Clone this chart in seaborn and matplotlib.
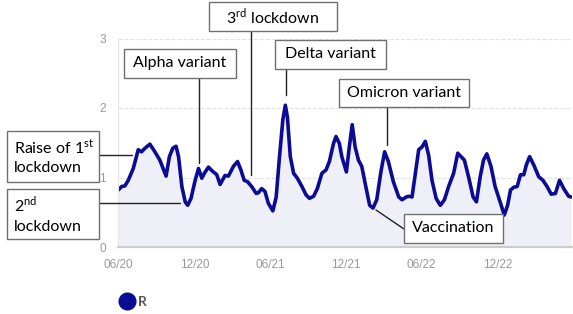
import pandas as pd
import matplotlib.pyplot as plt
import seaborn as sns
from matplotlib.patches import Rectangle
from matplotlib.lines import Line2D

# R estimate (days since 2020-06-01)
start = pd.Timestamp('2020-06-01')
days = [0, 8, 16, 24, 36, 48, 56, 64, 76, 88, 100, 115, 123, 131, 139, 145,
        153, 161, 167, 175, 185, 193, 201, 207, 217, 225, 237, 245, 257, 265,
        277, 287, 295, 303, 311, 321, 332, 337, 345, 353, 361, 372, 380, 388,
        396, 402, 407, 414, 422, 431, 442, 452, 460, 470, 479, 490, 500, 508,
        518, 524, 532, 538, 549, 556, 563, 570, 578, 586, 594, 605, 613, 622,
        632, 641, 650, 662, 675, 683, 693, 699, 707, 715, 723, 731, 739, 747,
        755, 765, 775, 785, 795, 807, 817, 825, 833, 843, 854, 862, 871, 879,
        887, 897, 907, 920, 929, 937, 944, 952, 960, 968, 976, 982, 990, 1000,
        1012, 1022, 1032, 1042, 1052, 1062, 1072, 1084, 1090]
r_values = [0.82, 0.87, 0.88, 0.96, 1.13, 1.40, 1.37, 1.42, 1.48, 1.37, 1.25,
            1.02, 1.30, 1.42, 1.45, 1.30, 0.87, 0.65, 0.60, 0.70, 0.96, 1.13,
            0.99, 1.06, 1.15, 1.10, 1.04, 0.90, 1.03, 1.02, 1.16, 1.23, 1.11,
            0.96, 0.94, 0.87, 0.77, 0.78, 0.84, 0.80, 0.63, 0.52, 0.72, 1.30,
            1.83, 2.04, 1.87, 1.30, 1.06, 0.99, 0.87, 0.75, 0.70, 0.73, 0.84,
            1.06, 1.11, 1.23, 1.49, 1.59, 1.49, 1.30, 1.08, 1.44, 1.76, 1.44,
            1.25, 1.16, 0.92, 0.60, 0.56, 0.68, 1.08, 1.37, 1.23, 0.94, 0.72,
            0.68, 0.72, 0.73, 0.72, 1.06, 1.40, 1.44, 1.52, 1.32, 0.96, 0.70,
            0.60, 0.68, 0.87, 1.06, 1.35, 1.30, 1.25, 1.01, 0.72, 0.65, 1.01,
            1.25, 1.34, 1.16, 0.87, 0.63, 0.46, 0.60, 0.82, 0.86, 0.87, 1.04,
            1.04, 1.18, 1.30, 1.18, 1.01, 0.96, 0.87, 0.76, 0.77, 0.96, 0.84,
            0.73, 0.72]
tick_dates = ['2020-06-01', '2020-12-01', '2021-06-01', '2021-12-01',
              '2022-06-01', '2022-12-01']
tick_labels = ['06/20', '12/20', '06/21', '12/21', '06/22', '12/22']

df = pd.DataFrame({'date': start + pd.to_timedelta(days, unit='D'), 'R': r_values})

sns.set_style('white')
plt.rcParams['font.family'] = ['Lato', 'DejaVu Sans']
plt.rcParams['mathtext.fontset'] = 'custom'
plt.rcParams['mathtext.rm'] = 'Lato'

W, H = 573, 314
fig = plt.figure(figsize=(W / 100, H / 100), dpi=100)
ax = fig.add_axes([118.3 / W, 1 - 247 / H, (572 - 118.3) / W, (247 - 38.5) / H])

navy = '#0b0b94'
ax.fill_between(df['date'], df['R'], color='#efeff7', lw=0)
sns.lineplot(data=df, x='date', y='R', ax=ax, color=navy, lw=2.6, legend=False,
             solid_joinstyle='round', solid_capstyle='round')

ax.set_xlim(start, start + pd.Timedelta(days=1092))
ax.set_ylim(0, 3)
ax.set_xticks(pd.to_datetime(tick_dates))
ax.set_xticklabels(tick_labels)
ax.set_yticks([0, 1, 2, 3])
ax.set_xlabel('')
ax.set_ylabel('')
ax.tick_params(length=0, labelsize=8.5, labelcolor='#999999')
ax.tick_params(axis='x', pad=9)
ax.tick_params(axis='y', pad=9)
for lab in ax.get_xticklabels() + ax.get_yticklabels():
    lab.set_fontfamily('Liberation Sans')
ax.yaxis.grid(True, ls='--', color='#e2e2e2', lw=0.8)
for s in ['top', 'right']:
    ax.spines[s].set_visible(False)
ax.spines['left'].set_color('#e6e6e6')
ax.spines['bottom'].set_color('#cccccc')
ax.spines['bottom'].set_linewidth(1.6)


def fx(x):
    return x / W


def fy(y):
    return 1 - y / H


# annotation boxes: (text, x0, y0, x1, y1, left aligned)
boxes = [
    (r'3$^{\mathrm{rd}}$ lockdown', 209, 2, 337, 31, False),
    ('Alpha variant', 124, 49, 236, 78, False),
    ('Delta variant', 275, 40, 386, 69, False),
    ('Omicron variant', 339, 79, 469, 107, False),
    ('Raise of 1$^{\\mathrm{st}}$\nlockdown', 7, 131, 99, 182, True),
    ('2$^{\\mathrm{nd}}$\nlockdown', 7, 189, 99, 239, True),
    ('Vaccination', 404, 214, 503, 243, False),
]
for txt, x0, y0, x1, y1, left in boxes:
    fig.add_artist(Rectangle((fx(x0), fy(y1)), (x1 - x0) / W, (y1 - y0) / H,
                             transform=fig.transFigure, fc='white',
                             ec='#707070', lw=1, zorder=5))
    if left:
        fig.text(fx(x0 + 7), fy((y0 + y1) / 2), txt, ha='left', va='center',
                 fontsize=11.5, color='black', zorder=6, linespacing=1.45)
    else:
        fig.text(fx((x0 + x1) / 2), fy((y0 + y1) / 2), txt, ha='center',
                 va='center', fontsize=11.5, color='black', zorder=6)

leaders = [
    ((251, 251), (31, 175)),
    ((199, 199), (78, 163)),
    ((286, 286), (69, 95)),
    ((387, 387), (107, 145)),
    ((99, 132), (155, 155)),
    ((99, 180), (203, 203)),
    ((376, 404), (210, 229)),
]
for xs, ys in leaders:
    fig.add_artist(Line2D([fx(x) for x in xs], [fy(y) for y in ys],
                          transform=fig.transFigure, color='#222222', lw=1,
                          zorder=4))

leg = fig.legend(handles=[Line2D([], [], marker='o', ls='', color=navy,
                                 markersize=12)],
                 labels=['R'], loc='center left',
                 bbox_to_anchor=(fx(106), fy(302)), frameon=False,
                 handletextpad=0.2, handlelength=1.2,
                 prop={'weight': 'bold', 'size': 10})
for t in leg.get_texts():
    t.set_color('#555555')

fig.savefig('out.png', dpi=100)
